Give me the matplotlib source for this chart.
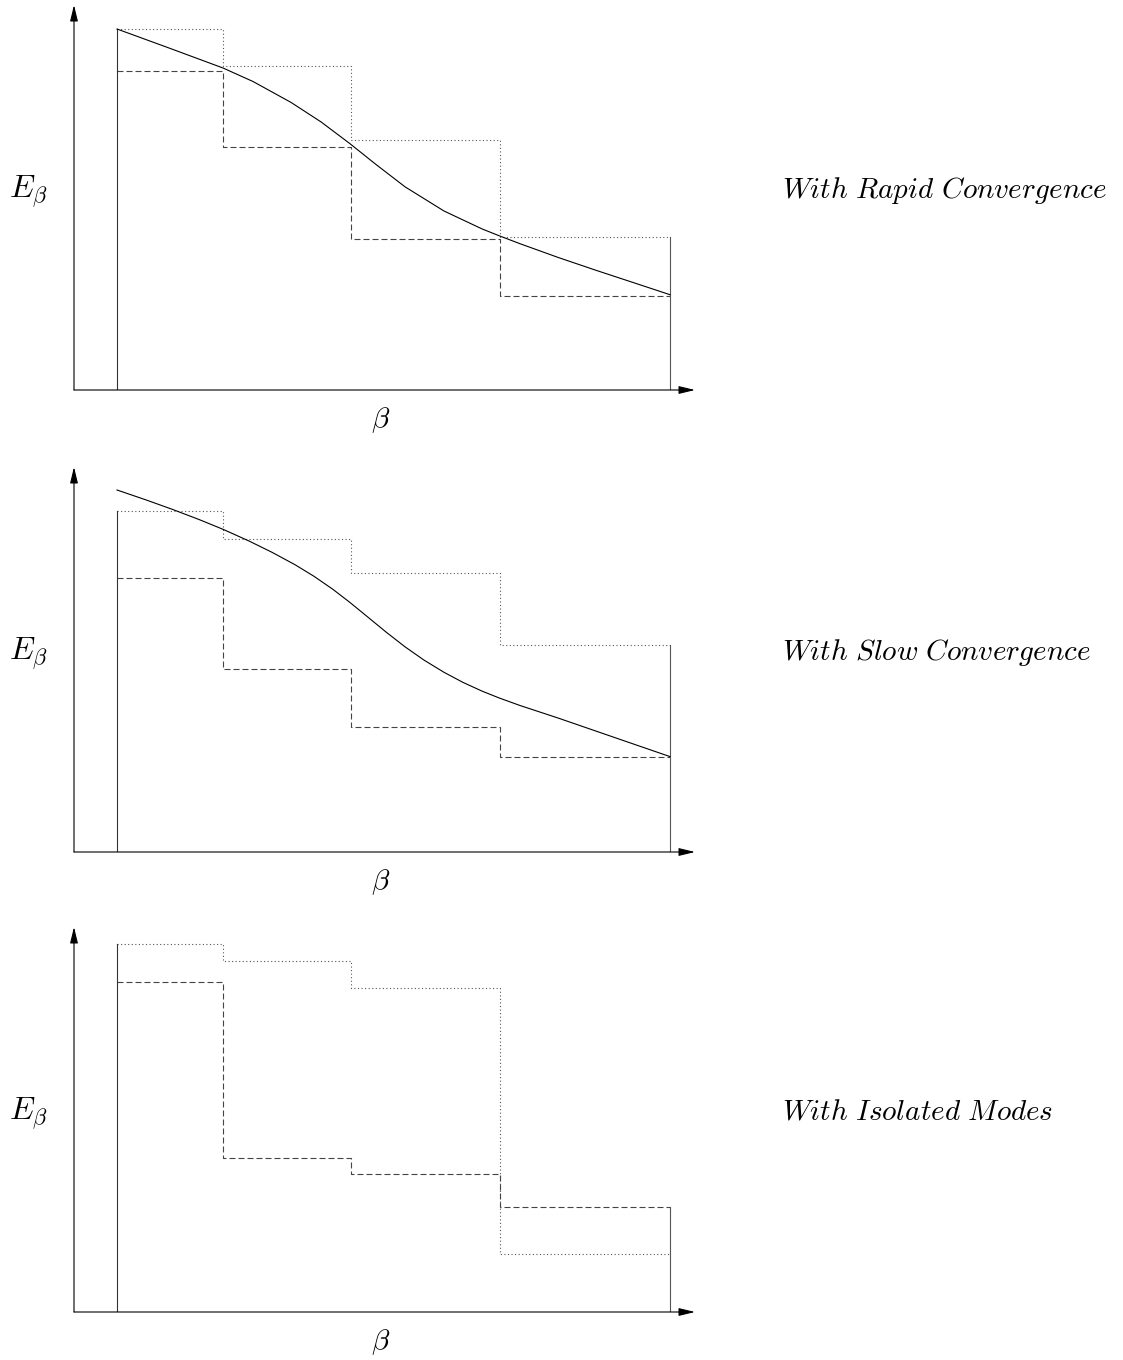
import matplotlib

matplotlib.use("Agg")
import matplotlib.pyplot as plt

plt.rcParams["mathtext.fontset"] = "cm"

W, H, DPI = 1123, 1360, 100

# temperature ladder: bin edges in beta (same for every panel)
beta_edges = [0.43, 1.49, 2.77, 4.26, 5.96]

titles = [r"$With\ Rapid\ Convergence$",
          r"$With\ Slow\ Convergence$",
          r"$With\ Isolated\ Modes$"]

# upper (dotted) and lower (dashed) estimates per bin
upper = [
    [3.61, 3.24, 2.50, 1.53],
    [3.41, 3.13, 2.79, 2.07],
    [3.68, 3.51, 3.24, 0.58],
]
lower = [
    [3.19, 2.43, 1.51, 0.94],
    [2.74, 1.83, 1.25, 0.95],
    [3.30, 1.54, 1.38, 1.05],
]

# true energy curve (none for the isolated-modes case)
curve_beta = [
    [0.43, 0.95, 1.49, 1.79, 2.17, 2.47, 2.76, 3.01, 3.31, 3.70, 4.08,
     4.25, 4.46, 4.84, 5.22, 5.60, 5.96],
    [0.43, 0.72, 0.985, 1.25, 1.49, 1.75, 1.98, 2.21, 2.40, 2.59, 2.76,
     2.93, 3.12, 3.31, 3.50, 3.70, 3.89, 4.08, 4.25, 4.46, 4.84, 5.22,
     5.60, 5.96],
    None,
]
curve_E = [
    [3.61, 3.42, 3.22, 3.085, 2.876, 2.681, 2.463, 2.263, 2.032, 1.790,
     1.611, 1.543, 1.463, 1.326, 1.197, 1.072, 0.953],
    [3.62, 3.521, 3.426, 3.325, 3.227, 3.110, 2.997, 2.873, 2.757, 2.626,
     2.495, 2.356, 2.200, 2.052, 1.919, 1.797, 1.696, 1.609, 1.541, 1.465,
     1.340, 1.209, 1.078, 0.954],
    None,
]

baselines_px = [390, 852, 1312]
XMAX, YMAX = 6.5, 3.9

DASH = (0, (5.4, 2.7))
DOT = (0, (1.0, 2.2))
LW = 0.8

fig = plt.figure(figsize=(W / DPI, H / DPI), dpi=DPI)

for k, base in enumerate(baselines_px):
    ax = fig.add_axes([74 / W, (H - base) / H, XMAX * 100 / W, YMAX * 100 / H])
    ax.set_xlim(0, XMAX)
    ax.set_ylim(0, YMAX)
    ax.axis("off")

    arrow = dict(arrowstyle="-|>,head_length=0.7,head_width=0.17", lw=LW,
                 color="black", shrinkA=0, shrinkB=0, mutation_scale=14)
    ax.annotate("", xy=(0, 3.85), xytext=(0, 0), arrowprops=arrow,
                annotation_clip=False)
    ax.annotate("", xy=(6.21, 0), xytext=(0, 0), arrowprops=arrow,
                annotation_clip=False)

    up = upper[k] + [upper[k][-1]]
    lo = lower[k] + [lower[k][-1]]
    ax.step(beta_edges, up, where="post", color="#555555", lw=LW, ls=DOT)
    ax.step(beta_edges, lo, where="post", color="#444444", lw=LW, ls=DASH)

    ax.plot([beta_edges[0]] * 2, [0, max(up[0], lo[0])], color="#333333", lw=LW)
    ax.plot([beta_edges[-1]] * 2, [0, max(up[-1], lo[-1])], color="#555555", lw=LW)

    if curve_beta[k] is not None:
        ax.plot(curve_beta[k], curve_E[k], color="black", lw=LW,
                solid_joinstyle="round")

    ax.text(-0.65, 1.92, r"$E_\beta$", fontsize=23, ha="left", va="baseline",
            clip_on=False)
    ax.text(3.07, -0.37, r"$\beta$", fontsize=21, ha="center", va="baseline",
            clip_on=False)
    ax.text(7.08, 1.92, titles[k], fontsize=21, ha="left", va="baseline",
            clip_on=False)

fig.savefig("out.png", dpi=DPI)
